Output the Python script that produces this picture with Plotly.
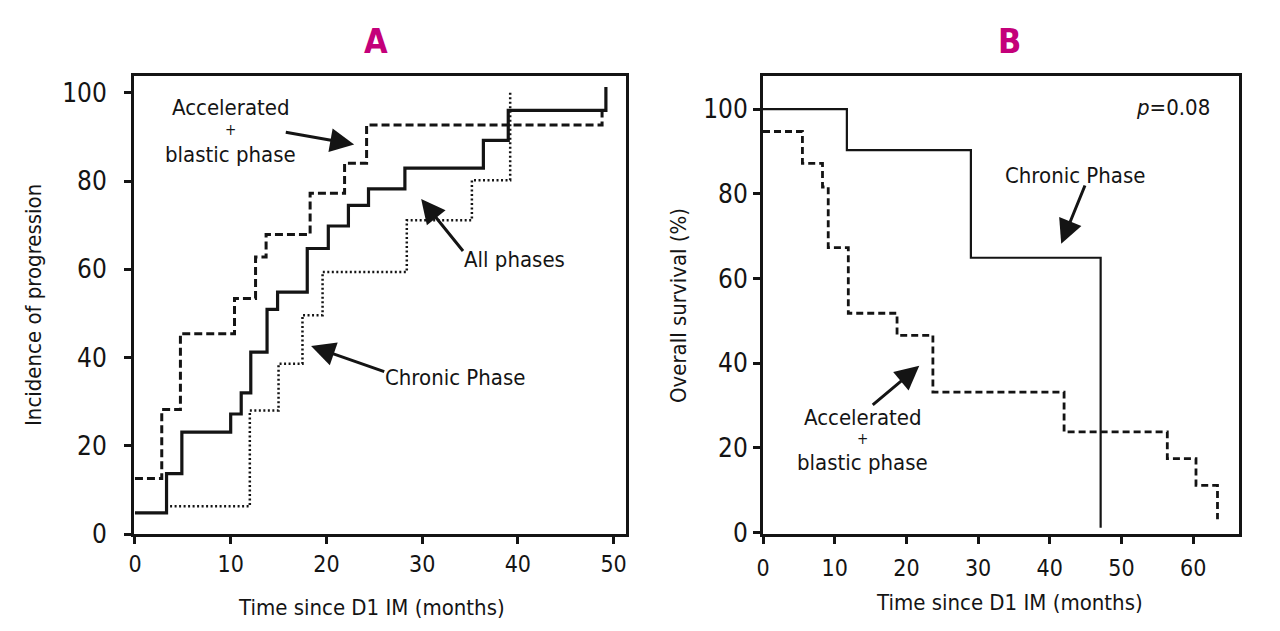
import plotly.graph_objects as go

# ---- Data ----
# Panel A: incidence of progression (step curves)
a_acc_t = [0, 2.8, 4.75, 10.4, 12.6, 13.7, 18.3, 21.9, 24.2, 48.8]
a_acc_v = [12.6, 28.2, 45.4, 53.4, 62.8, 67.9, 77.2, 84.0, 92.7, 96.0]
a_all_t = [0, 3.3, 4.9, 10.0, 11.1, 12.1, 13.8, 14.9, 18.0, 20.2, 22.3, 24.4, 28.2, 36.4, 39.0, 49.2]
a_all_v = [4.8, 13.7, 23.1, 27.2, 32.0, 41.2, 50.9, 54.8, 64.7, 69.8, 74.5, 78.2, 82.9, 89.2, 96.0, 101.3]
a_chr_t = [3.2, 12.0, 15.0, 17.5, 19.6, 28.4, 35.2, 39.2]
a_chr_v = [6.3, 28.0, 38.6, 49.6, 59.4, 71.1, 80.2, 100.4]

# Panel B: overall survival (%)
b_chr_t = [0, 11.7, 29.0, 47.1]
b_chr_v = [100, 90.3, 64.9, 1.2]
b_acc_t = [0, 5.5, 8.3, 9.1, 11.9, 18.7, 23.7, 42.0, 56.4, 60.4, 63.4]
b_acc_v = [94.7, 87.2, 81.6, 67.3, 51.8, 46.6, 33.2, 23.8, 17.5, 11.2, 3.2]

a_xticks = [0, 10, 20, 30, 40, 50]
b_xticks = [0, 10, 20, 30, 40, 50, 60]
yticks = [0, 20, 40, 60, 80, 100]

FONT = "Liberation Sans Narrow, Arial Narrow, DejaVu Sans Condensed, sans-serif"
INK = "#141414"
MAGENTA = "#C4007A"

W, H = 1280, 631
OFF = 7  # page offset of the plot div (body margin)


def pxx(p):
    return (p - OFF) / W


def pxy(p):
    return (H - (p - OFF)) / H


fig = go.Figure()

fig.add_trace(go.Scatter(x=a_acc_t, y=a_acc_v, mode="lines", line_shape="hv",
                         line=dict(color=INK, width=3, dash="8px,4px"),
                         xaxis="x", yaxis="y", name="Accelerated + blastic phase"))
fig.add_trace(go.Scatter(x=a_all_t, y=a_all_v, mode="lines", line_shape="hv",
                         line=dict(color=INK, width=3.2),
                         xaxis="x", yaxis="y", name="All phases"))
fig.add_trace(go.Scatter(x=a_chr_t, y=a_chr_v, mode="lines", line_shape="hv",
                         line=dict(color=INK, width=2.5, dash="2px,2.5px"),
                         xaxis="x", yaxis="y", name="Chronic Phase"))

fig.add_trace(go.Scatter(x=b_chr_t, y=b_chr_v, mode="lines", line_shape="hv",
                         line=dict(color=INK, width=2.2),
                         xaxis="x2", yaxis="y2", name="Chronic Phase"))
fig.add_trace(go.Scatter(x=b_acc_t, y=b_acc_v, mode="lines", line_shape="hv",
                         line=dict(color=INK, width=2.8, dash="7px,4px"),
                         xaxis="x2", yaxis="y2", name="Accelerated + blastic phase"))

axis_common = dict(showgrid=False, zeroline=False, showline=True, linecolor=INK,
                   linewidth=3, mirror=True, ticks="outside", ticklen=7,
                   tickwidth=3, tickcolor=INK, automargin=False)

fig.update_layout(
    width=W, height=H,
    margin=dict(l=0, r=0, t=0, b=0),
    paper_bgcolor="white", plot_bgcolor="white",
    showlegend=False,
    font=dict(family=FONT, color=INK, size=22),
    xaxis=dict(domain=[pxx(133), pxx(625)], range=[-0.1, 51.3],
               tickvals=a_xticks, tickfont=dict(size=23), ticklabelstandoff=0,
               anchor="y", **axis_common),
    yaxis=dict(domain=[pxy(533), pxy(75)], range=[0, 103.8],
               tickvals=yticks, tickfont=dict(size=26), ticklabelstandoff=12,
               anchor="x", **axis_common),
    xaxis2=dict(domain=[pxx(762), pxx(1238)], range=[0, 66.4],
                tickvals=b_xticks, tickfont=dict(size=23), ticklabelstandoff=4,
                anchor="y2", **axis_common),
    yaxis2=dict(domain=[pxy(533), pxy(75)], range=[-0.3, 107.8],
                tickvals=yticks, tickfont=dict(size=26), ticklabelstandoff=0,
                anchor="x2", **axis_common),
)

ann = []


def note(text, x, y, xref, yref, size=22, color=INK, angle=0):
    ann.append(dict(text=text, x=x, y=y, xref=xref, yref=yref, showarrow=False,
                    xanchor="center", yanchor="middle", textangle=angle,
                    font=dict(size=size, color=color, family=FONT)))


# Panel titles
note("<b>A</b>", pxx(375), pxy(40), "paper", "paper", size=34, color=MAGENTA)
note("<b>B</b>", pxx(1008), pxy(40), "paper", "paper", size=34, color=MAGENTA)
# Axis titles
note("Incidence of progression", pxx(33), pxy(304), "paper", "paper", angle=-90)
note("Time since D1 IM (months)", pxx(370), pxy(606), "paper", "paper")
note("Overall survival (%)", pxx(677), pxy(305), "paper", "paper", angle=-90)
note("Time since D1 IM (months)", pxx(1008), pxy(601), "paper", "paper")

# Panel A labels
note("Accelerated", 10.0, 96.6, "x", "y")
note("+", 10.0, 91.5, "x", "y", size=15)
note("blastic phase", 10.0, 86.0, "x", "y")
note("All phases", 39.7, 62.3, "x", "y")
note("Chronic Phase", 33.4, 35.5, "x", "y")

# Panel B labels
note("<i>p</i>=0.08", 57.2, 100.3, "x2", "y2")
note("Chronic Phase", 43.5, 84.2, "x2", "y2")
note("Accelerated", 13.9, 27.2, "x2", "y2")
note("+", 13.9, 22.2, "x2", "y2", size=15)
note("blastic phase", 13.9, 16.6, "x2", "y2")

arrow_style = dict(text="", showarrow=True, arrowhead=2, arrowsize=1.6, arrowwidth=3,
                   arrowcolor=INK, standoff=0, startstandoff=0)


def arrow(x, y, ax, ay, xr, yr):
    ann.append(dict(x=x, y=y, ax=ax, ay=ay, xref=xr, yref=yr, axref=xr, ayref=yr,
                    **arrow_style))


# Panel A arrows
arrow(22.9, 88.3, 15.6, 91.1, "x", "y")
arrow(29.9, 75.9, 34.4, 63.8, "x", "y")
arrow(18.4, 42.6, 26.2, 36.7, "x", "y")
# Panel B arrows
arrow(41.6, 68.2, 45.0, 82.3, "x2", "y2")
arrow(21.8, 39.4, 15.1, 29.9, "x2", "y2")

fig.update_layout(annotations=ann)

fig.write_html("out.html")
